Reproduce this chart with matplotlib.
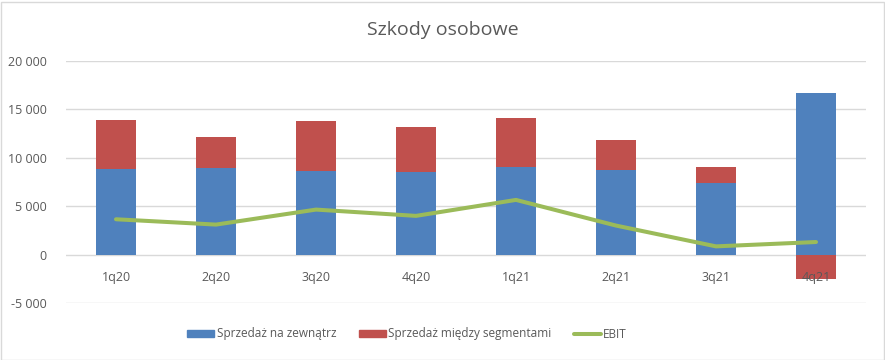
import matplotlib.pyplot as plt
import matplotlib.patches as mpatches
from matplotlib.lines import Line2D
from matplotlib.ticker import FuncFormatter

# ── data ────────────────────────────────────────────────────────────────────
quarters = ["1q20", "2q20", "3q20", "4q20", "1q21", "2q21", "3q21", "4q21"]
external = [8800, 8950, 8600, 8500, 9000, 8750, 7350, 16700]
intersegment = [5100, 3150, 5200, 4650, 5100, 3050, 1650, -2550]
ebit = [3650, 3100, 4650, 4000, 5650, 3000, 850, 1300]

BLUE, RED, GREEN = "#4F81BD", "#C0504D", "#9BBB59"
GRID = "#D9D9D9"
TXT = "#595959"

plt.rcParams["font.family"] = ["Open Sans", "DejaVu Sans"]

fig = plt.figure(figsize=(8.85, 3.6), dpi=100)
ax = fig.add_axes([66 / 885, 1 - 303 / 360, 800 / 885, 242 / 360])

x = list(range(len(quarters)))
ax.bar(x, external, width=0.4, color=BLUE, zorder=2)
# negative segment values hang below zero, positive ones stack on top of blue
bottoms = [e if s >= 0 else 0 for e, s in zip(external, intersegment)]
ax.bar(x, intersegment, width=0.4, bottom=bottoms, color=RED, zorder=2)
ax.plot(x, ebit, color=GREEN, linewidth=2.9, solid_capstyle="round", zorder=3)

ax.set_xlim(-0.5, len(quarters) - 0.5)
ax.set_ylim(-5000, 20000)
ax.set_yticks(range(-5000, 20001, 5000))
ax.yaxis.set_major_formatter(FuncFormatter(lambda v, p: f"{int(v):,}".replace(",", " ")))
ax.grid(axis="y", color=GRID, linewidth=1, zorder=0)
for s in ax.spines.values():
    s.set_visible(False)
ax.tick_params(axis="y", length=0, pad=14, labelsize=9, labelcolor=TXT)
ax.set_xticks([])

for i, q in enumerate(quarters):
    ax.annotate(q, (i, 0), xytext=(0, -12), textcoords="offset points",
                ha="center", va="top", fontsize=9, color=TXT, zorder=5)

fig.text(0.5, 1 - 30 / 360, "Szkody osobowe", ha="center", va="center",
         fontsize=14, color=TXT)

handles = [
    mpatches.Patch(color=BLUE, label="Sprzedaż na zewnątrz"),
    mpatches.Patch(color=RED, label="Sprzedaż między segmentami"),
    Line2D([], [], color=GREEN, linewidth=2.9, solid_capstyle="round", label="EBIT"),
]
fig.legend(handles=handles, loc="center", bbox_to_anchor=(407 / 885, 1 - 334 / 360),
           ncol=3, frameon=False, fontsize=8.5, labelcolor=TXT,
           handlelength=2.3, handleheight=0.6, handletextpad=0.2, columnspacing=1.9)

# light chart-area border like the Excel export
fig.add_artist(mpatches.Rectangle((0.5 / 885, 0.5 / 360), 883 / 885, 358 / 360,
                                  transform=fig.transFigure, fill=False,
                                  edgecolor=GRID, linewidth=1))

fig.savefig("out.png", dpi=100)
